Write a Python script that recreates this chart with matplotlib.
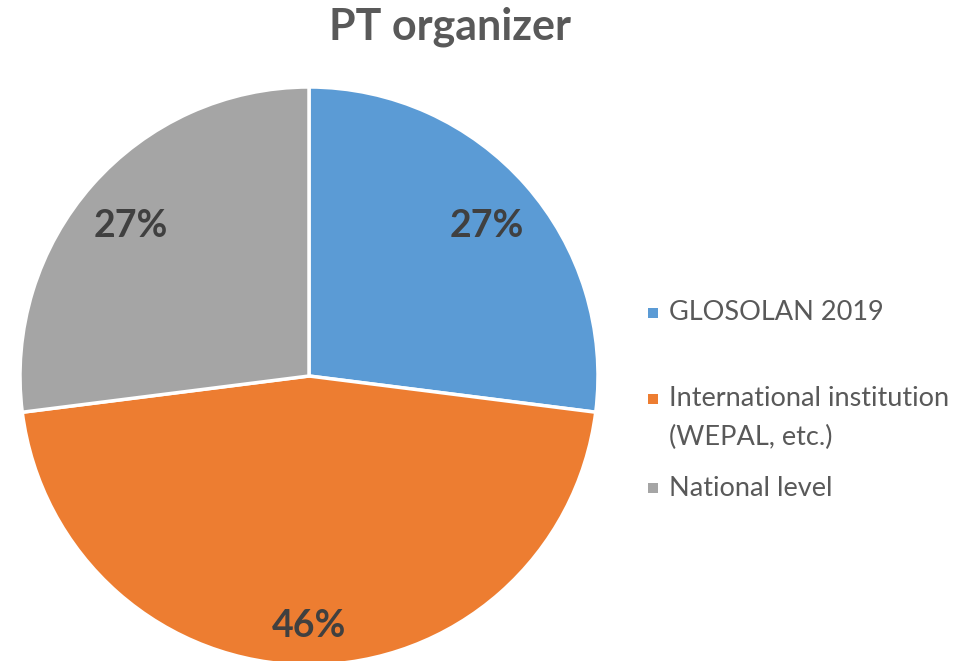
import numpy as np
import matplotlib.pyplot as plt
from matplotlib.patches import Rectangle

labels = ["GLOSOLAN 2019", "International institution\n(WEPAL, etc.)", "National level"]
shares = [27, 46, 27]
colors = ["#5B9BD5", "#ED7D31", "#A5A5A5"]
label_dist = [0.82, 0.84, 0.82]

plt.rcParams["font.family"] = ["Lato", "DejaVu Sans"]

W, H = 979, 661
fig = plt.figure(figsize=(W / 100, H / 100), dpi=100)
ax = fig.add_axes([20 / W, -4 / H, 578 / W, 578 / H])

wedges, _ = ax.pie(shares, colors=colors, startangle=90, counterclock=False,
                   radius=1, wedgeprops=dict(edgecolor="white", linewidth=2.5))
ax.set_xlim(-1, 1)
ax.set_ylim(-1, 1)
ax.set_aspect("equal")

# percentage labels at each wedge's middle angle
for w, v, d in zip(wedges, shares, label_dist):
    mid = np.radians((w.theta1 + w.theta2) / 2)
    ax.annotate(f"{v}%", (d * np.cos(mid), d * np.sin(mid)), xytext=(0, -5),
                textcoords="offset points", ha="center", va="center",
                fontsize=27, fontweight="bold", color="#404040")

fig.text(450 / W, 1 - 27 / H, "PT organizer", ha="center", va="center",
         fontsize=31, fontweight="bold", color="#595959")

# legend, drawn by hand to match the uneven spacing of the original
leg_y = [313, 399, 488]
line_gap = 38
for lab, c, y in zip(labels, colors, leg_y):
    fig.patches.append(Rectangle((648 / W, 1 - (y + 5) / H), 10 / W, 10 / H,
                                 transform=fig.transFigure, facecolor=c, edgecolor="none"))
    for i, line in enumerate(lab.split("\n")):
        fig.text(669 / W, 1 - (y + i * line_gap) / H, line, ha="left", va="center",
                 fontsize=19.5, color="#595959")

fig.savefig("out.png", dpi=100)
